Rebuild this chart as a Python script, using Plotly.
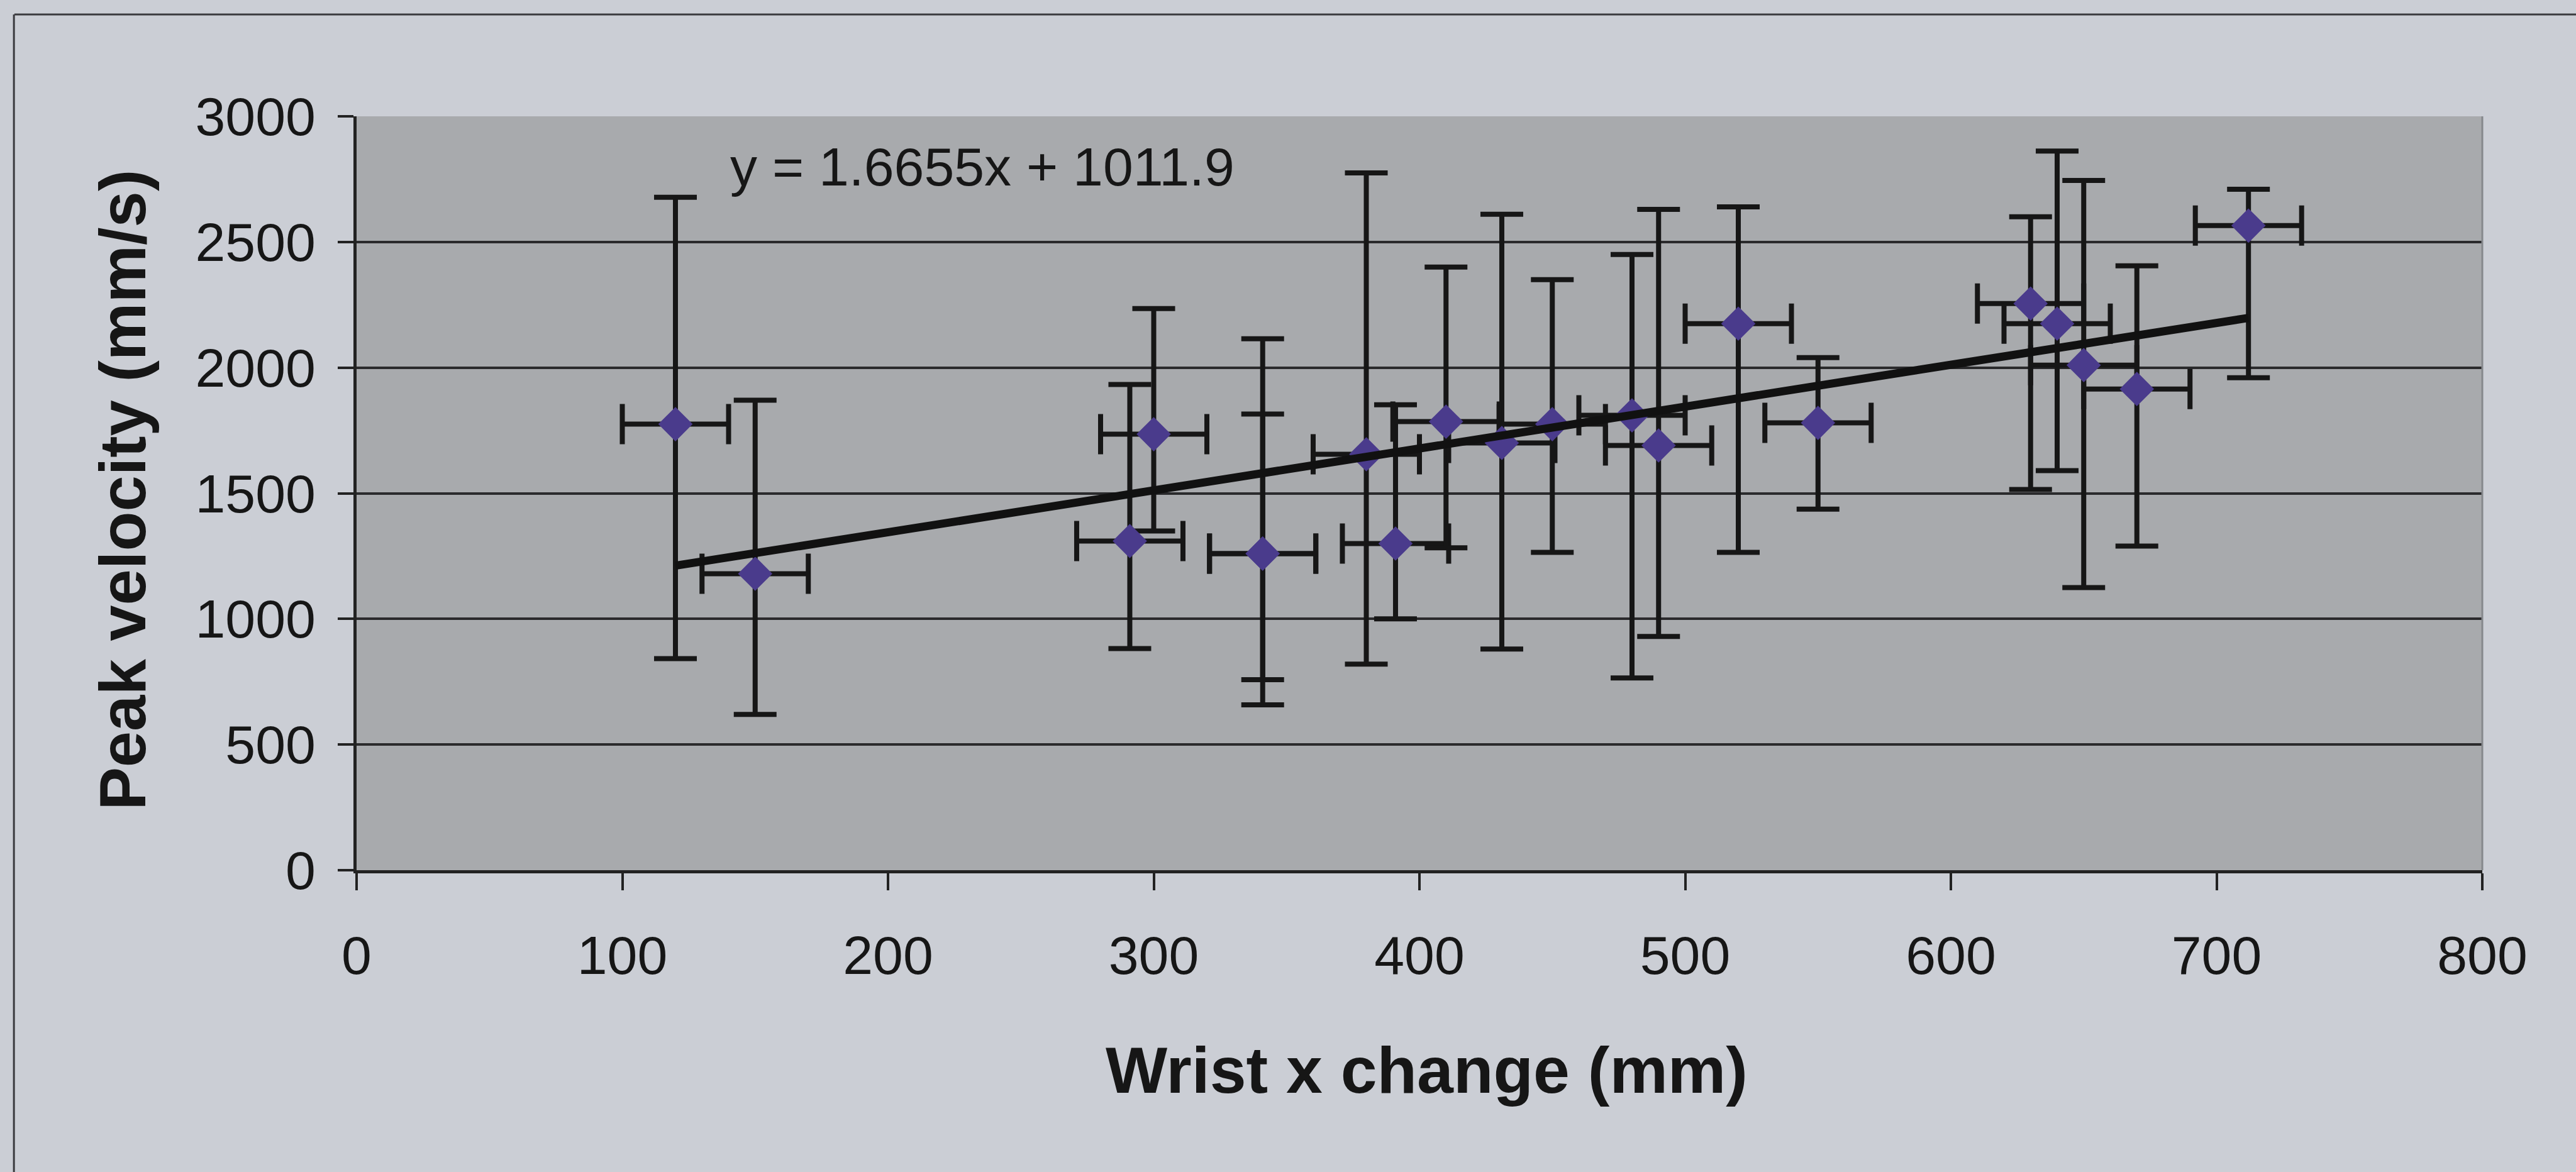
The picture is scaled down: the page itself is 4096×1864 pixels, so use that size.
import plotly.graph_objects as go

# Wrist displacement vs. peak velocity, one entry per trial
wrist_x_change = [120, 150, 291, 300, 341, 341, 380, 391, 410, 431,
                  450, 480, 490, 520, 550, 630, 640, 650, 670, 712]
peak_velocity = [1775, 1180, 1310, 1735, 1260, 1260, 1655, 1300, 1785, 1700,
                 1775, 1810, 1690, 2175, 1780, 2255, 2175, 2010, 1915, 2565]
# Upper / lower ends of the velocity error bars
velocity_upper = [2678, 1870, 1933, 2235, 1815, 2115, 2775, 1852, 2400, 2610,
                  2350, 2450, 2630, 2640, 2040, 2600, 2862, 2745, 2405, 2710]
velocity_lower = [842, 620, 882, 1350, 758, 658, 820, 1000, 1283, 880,
                  1265, 765, 930, 1265, 1437, 1515, 1590, 1125, 1290, 1960]
# Horizontal (wrist x) error, mm
wrist_x_error = [20, 20, 20, 20, 20, 20, 20, 20, 20, 20,
                 20, 20, 20, 20, 20, 20, 20, 20, 20, 20]

# Linear trend line coefficients
trend_slope = 1.6655
trend_intercept = 1011.9

x_ticks = [0, 100, 200, 300, 400, 500, 600, 700, 800]
y_ticks = [0, 500, 1000, 1500, 2000, 2500, 3000]

err_plus = [u - v for u, v in zip(velocity_upper, peak_velocity)]
err_minus = [v - l for v, l in zip(peak_velocity, velocity_lower)]

FONT = "Liberation Sans, Arial, sans-serif"
INK = "#161616"

fig = go.Figure()

fig.add_trace(go.Scatter(
    x=wrist_x_change,
    y=peak_velocity,
    mode="markers",
    marker=dict(symbol="diamond", size=42, color="#4a3b8c", line=dict(width=0)),
    error_y=dict(type="data", symmetric=False, array=err_plus, arrayminus=err_minus,
                 color=INK, thickness=8, width=34),
    error_x=dict(type="data", array=wrist_x_error, color=INK, thickness=8, width=32),
    showlegend=False,
))

trend_x = [min(wrist_x_change), max(wrist_x_change)]
trend_y = [trend_slope * v + trend_intercept for v in trend_x]
fig.add_trace(go.Scatter(
    x=trend_x, y=trend_y, mode="lines",
    line=dict(color="#111111", width=13),
    showlegend=False,
))

fig.add_annotation(
    x=140, y=2800, xref="x", yref="y",
    text=f"y = {trend_slope}x + {trend_intercept}",
    showarrow=False, xanchor="left", yanchor="middle",
    font=dict(family=FONT, size=86, color=INK),
)

# Axis titles
fig.add_annotation(
    x=0.5035, y=-0.2655, xref="paper", yref="paper",
    text="<b>Wrist x change (mm)</b>", showarrow=False,
    xanchor="center", yanchor="middle",
    font=dict(family=FONT, size=104, color=INK),
)
fig.add_annotation(
    x=-0.1098, y=0.5046, xref="paper", yref="paper",
    text="<b>Peak velocity (mm/s)</b>", showarrow=False, textangle=-90,
    xanchor="center", yanchor="middle",
    font=dict(family=FONT, size=103, color=INK),
)

# Plot-area right border and the outer chart frame
fig.add_shape(type="line", xref="paper", yref="paper", x0=1, x1=1, y0=0, y1=1,
              line=dict(color="#85888c", width=3))
fig.add_shape(type="line", xref="paper", yref="paper",
              x0=-0.161, x1=1.05, y0=1.1351, y1=1.1351,
              line=dict(color="#3a3a3e", width=3))
fig.add_shape(type="line", xref="paper", yref="paper",
              x0=-0.1612, x1=-0.1612, y0=-0.5, y1=1.1351,
              line=dict(color="#3a3a3e", width=3))

fig.update_xaxes(
    range=[0, 800], tickvals=x_ticks, ticktext=[str(v) for v in x_ticks],
    showgrid=False, zeroline=False,
    showline=True, linecolor="#222222", linewidth=5,
    ticks="outside", ticklen=27, tickwidth=4, tickcolor="#222222",
    ticklabelstandoff=30,
    tickfont=dict(family=FONT, size=86, color=INK),
)
fig.update_yaxes(
    range=[0, 3000], tickvals=y_ticks, ticktext=[str(v) for v in y_ticks],
    showgrid=True, gridcolor="#2a2a2c", gridwidth=4, zeroline=False,
    showline=True, linecolor="#222222", linewidth=5,
    ticks="outside", ticklen=25, tickwidth=4, tickcolor="#222222",
    ticklabelstandoff=18,
    tickfont=dict(family=FONT, size=86, color=INK),
)

fig.update_layout(
    width=4096, height=1864,
    margin=dict(l=567, r=149, t=185, b=480),
    paper_bgcolor="#cbced5",
    plot_bgcolor="#a8aaad",
    font=dict(family=FONT, color=INK),
)

fig.write_html("out.html")
